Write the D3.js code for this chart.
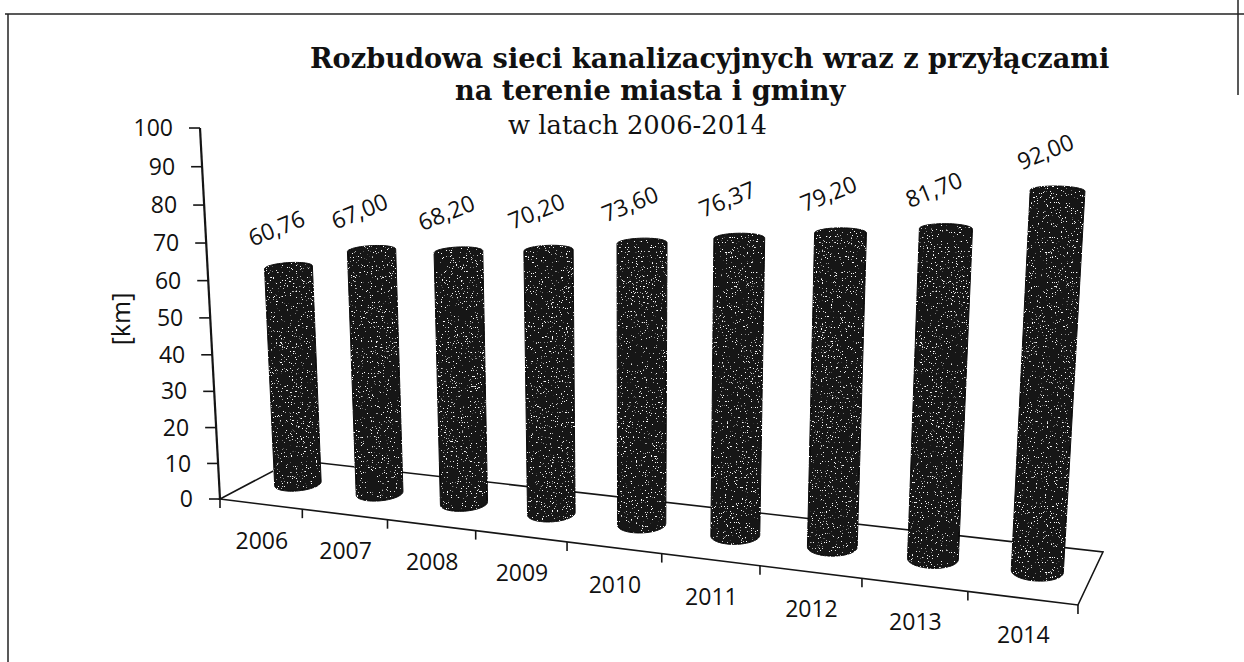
<!DOCTYPE html>
<html lang="pl">
<head>
<meta charset="UTF-8"/>
<title>Rozbudowa sieci kanalizacyjnych 2006-2014</title>
<script src="https://d3js.org/d3.v7.min.js"></script>
<style>
	body { margin: 0; background: #fff; }
	.title { font-family: "DejaVu Serif", Georgia, serif; fill: #111; }
	.lbl { font-family: "Open Sans", Calibri, sans-serif; fill: #111; }
	.edge { fill: none; stroke: #151515; stroke-width: 1.6; }
	.frame { stroke: #222; stroke-width: 1.5; }
	.cyl { fill: #121212; stroke: #080808; stroke-width: 1; }
</style>
</head>
<body>
<div id="chart"></div>
<script>
var years = ["2006", "2007", "2008", "2009", "2010", "2011", "2012", "2013", "2014"];
var values = [60.76, 67.00, 68.20, 70.20, 73.60, 76.37, 79.20, 81.70, 92.00];
var yTicks = [0, 10, 20, 30, 40, 50, 60, 70, 80, 90, 100];
var titleLines = ["Rozbudowa sieci kanalizacyjnych wraz z przyłączami", "na terenie miasta i gminy", "w latach 2006-2014"];

var w = 1244, h = 662;

// perspective camera: u = along years (0..1), d = depth (0 front .. 1 back), z = height (0..1)
var cam = [
	[695.3, 93.18, -29.24, 220],
	[14.7, -9.0, -376.9, 499],
	[-0.1509, 0.06523, -0.04619, 1]
];
function project(u, d, z) {
	var X = cam[0][0]*u + cam[0][1]*d + cam[0][2]*z + cam[0][3];
	var Y = cam[1][0]*u + cam[1][1]*d + cam[1][2]*z + cam[1][3];
	var W = cam[2][0]*u + cam[2][1]*d + cam[2][2]*z + cam[2][3];
	return [X / W, Y / W];
}

var xScale = d3.scaleBand().domain(years).range([0, 1]);
var yScale = d3.scaleLinear().domain([0, 100]).range([0, 1]);
var pl = d3.formatLocale({decimal: ",", thousands: " ", grouping: [3], currency: ["", " zł"]});
var fmt = pl.format(".2f");

var svg = d3.select("#chart").append("svg")
	.attr("width", w)
	.attr("height", h);

var defs = svg.append("defs");
var f = defs.append("filter").attr("id", "speckle");
f.append("feTurbulence").attr("type", "fractalNoise").attr("baseFrequency", 0.8)
	.attr("numOctaves", 2).attr("seed", 5).attr("result", "noise");
f.append("feColorMatrix").attr("in", "noise").attr("type", "matrix")
	.attr("values", "0 0 0 0 1  0 0 0 0 1  0 0 0 0 1  16 0 0 0 -10.9").attr("result", "dots");
f.append("feComposite").attr("in", "dots").attr("in2", "SourceGraphic").attr("operator", "in").attr("result", "clip");
var m = f.append("feMerge");
m.append("feMergeNode").attr("in", "SourceGraphic");
m.append("feMergeNode").attr("in", "clip");

// frame of the scanned page
svg.append("line").attr("class", "frame").attr("x1", 5).attr("y1", 14).attr("x2", w).attr("y2", 14);
svg.append("line").attr("class", "frame").attr("x1", 8).attr("y1", 14).attr("x2", 8).attr("y2", h);
svg.append("line").attr("class", "frame").attr("x1", 1238).attr("y1", 0).attr("x2", 1238).attr("y2", 95);

// title
var t1 = svg.append("text").attr("class", "title").attr("x", 310).attr("y", 68)
	.style("font-weight", "bold").style("font-size", "26px").text(titleLines[0]);
var size = 26 * 800 / t1.node().getComputedTextLength();
t1.style("font-size", size + "px");
svg.append("text").attr("class", "title").attr("x", 455).attr("y", 100)
	.style("font-weight", "bold").style("font-size", size + "px").text(titleLines[1]);
var t3 = svg.append("text").attr("class", "title").attr("x", 508).attr("y", 134)
	.style("font-size", "22px").text(titleLines[2]);
t3.style("font-size", (22 * 259 / t3.node().getComputedTextLength()) + "px");

// floor
var floor = [[0, 0], [1, 0], [1, 1], [0, 1]].map(function(p) { return project(p[0], p[1], 0); });
svg.append("path").attr("class", "edge")
	.attr("d", d3.line()(floor) + "Z");

// category tick marks on the front edge
var bounds = years.map(function(y) { return xScale(y); }).concat([1]);
svg.selectAll(".xtick").data(bounds).enter().append("line")
	.attr("class", "edge xtick")
	.attr("x1", function(d) { return project(d, 0, 0)[0]; })
	.attr("y1", function(d) { return project(d, 0, 0)[1]; })
	.attr("x2", function(d) { return project(d, 0, 0)[0]; })
	.attr("y2", function(d) { return project(d, 0, 0)[1] + 9; });

// y axis
var a0 = project(0, 0, 0), a1 = project(0, 0, 1);
svg.append("line").attr("class", "edge").style("stroke-width", 2.2)
	.attr("x1", a0[0]).attr("y1", a0[1]).attr("x2", a1[0]).attr("y2", a1[1]);
var yt = svg.selectAll(".ytick").data(yTicks).enter().append("g").attr("class", "ytick")
	.attr("transform", function(d) { var p = project(0, 0, yScale(d)); return "translate(" + p[0] + "," + p[1] + ")"; });
yt.append("line").attr("class", "edge").attr("x1", -11).attr("x2", 0);
yt.append("text").attr("class", "lbl").attr("x", -27).attr("dy", "0.35em")
	.attr("text-anchor", "end").style("font-size", "23px").text(function(d) { return d; });

svg.append("text").attr("class", "lbl").attr("text-anchor", "middle")
	.attr("transform", "translate(121,319) rotate(-90)").attr("dy", "0.35em")
	.style("font-size", "25px").text("[km]");

// cylinders
var ru = xScale.bandwidth() * 0.24, rd = 0.18, dc = 0.5;
var angles = d3.range(0, 2 * Math.PI, Math.PI / 30);
var data = years.map(function(y, i) { return {year: y, value: values[i]}; });

svg.selectAll(".cyl").data(data).enter().append("path")
	.attr("class", "cyl")
	.attr("filter", "url(#speckle)")
	.attr("d", function(d) {
		var uc = xScale(d.year) + xScale.bandwidth() / 2;
		var zt = yScale(d.value);
		var pts = [];
		angles.forEach(function(a) {
			pts.push(project(uc + ru * Math.cos(a), dc + rd * Math.sin(a), 0));
			pts.push(project(uc + ru * Math.cos(a), dc + rd * Math.sin(a), zt));
		});
		return "M" + d3.polygonHull(pts).join("L") + "Z";
	});

// value labels
svg.selectAll(".val").data(data).enter().append("text")
	.attr("class", "lbl val")
	.attr("text-anchor", "middle").attr("dy", "0.35em")
	.style("font-size", "23px")
	.attr("transform", function(d) {
		var p = project(xScale(d.year) + xScale.bandwidth() / 2, dc, yScale(d.value));
		return "translate(" + (p[0] - 12) + "," + (p[1] - 39) + ") rotate(-22)";
	})
	.text(function(d) { return fmt(d.value); });

// category labels
svg.selectAll(".cat").data(years).enter().append("text")
	.attr("class", "lbl cat")
	.attr("text-anchor", "middle").attr("dy", "0.35em")
	.style("font-size", "23px")
	.attr("x", function(d) { return project(xScale(d) + xScale.bandwidth() / 2, 0, 0)[0] + 1; })
	.attr("y", function(d) { return project(xScale(d) + xScale.bandwidth() / 2, 0, 0)[1] + 37; })
	.text(function(d) { return d; });
</script>
</body>
</html>
